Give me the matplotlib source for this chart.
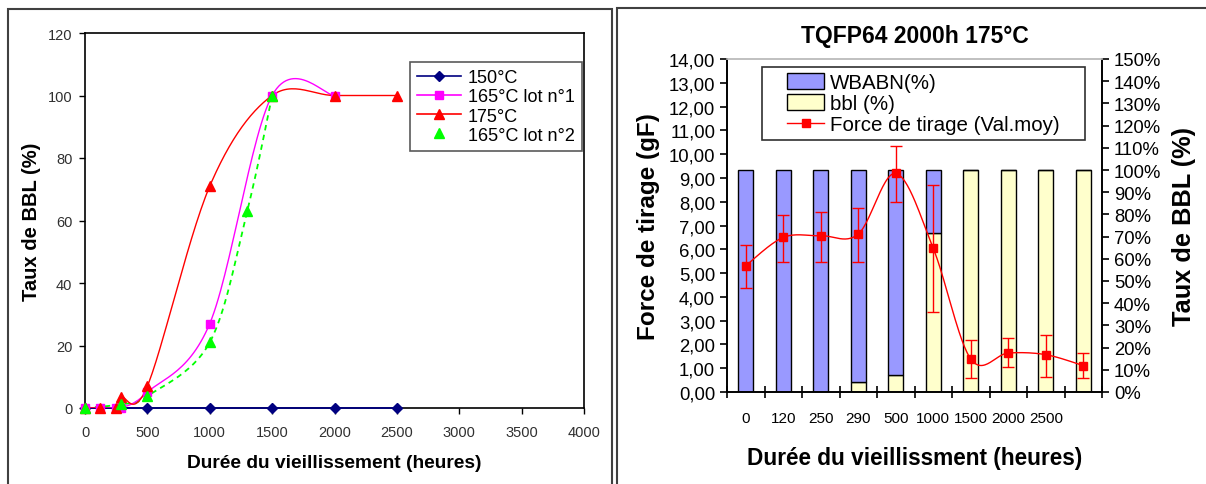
import numpy as np
import matplotlib
matplotlib.use('Agg')
import matplotlib.pyplot as plt
from matplotlib.patches import Rectangle, Patch
from matplotlib.lines import Line2D

plt.rcParams['font.family'] = ['Liberation Sans', 'DejaVu Sans']

# --- données graphique gauche : taux de BBL (%) selon la durée ---
x_150 = [0, 500, 1000, 1500, 2000, 2500]
y_150 = [0, 0, 0, 0, 0, 0]
x_165_1 = [0, 120, 250, 290, 500, 1000, 1500, 2000]
y_165_1 = [0, 0, 0, 0, 5, 27, 100, 100]
x_175 = [0, 120, 250, 290, 500, 1000, 1500, 2000, 2500]
y_175 = [0, 0, 0, 3.4, 7, 71, 100, 100, 100]
x_165_2 = [0, 290, 500, 1000, 1300, 1500]
y_165_2 = [0, 1.2, 3.8, 21, 63, 100]

# --- données graphique droit : TQFP64 2000h 175°C ---
durees = ['0', '120', '250', '290', '500', '1000', '1500', '2000', '2500', '']
bbl = [0, 0, 0, 4.4, 7.8, 71.8, 100, 100, 100, 100]
wbabn = [100 - b for b in bbl]
force = [5.31, 6.50, 6.57, 6.64, 9.19, 6.04, 1.39, 1.64, 1.57, 1.11]
err_bas = [0.94, 1.02, 1.09, 1.16, 1.22, 2.66, 0.82, 0.60, 0.95, 0.54]
err_haut = [0.88, 0.94, 1.01, 1.08, 1.17, 2.66, 0.81, 0.62, 0.83, 0.52]


def lisse(x, y, xr, yr, n=30):
    # courbe lissée façon Excel (Bezier de Catmull-Rom)
    p = np.column_stack([np.array(x, float) / xr, np.array(y, float) / yr])
    out = [p[0]]
    for i in range(len(p) - 1):
        p0 = p[i - 1] if i > 0 else p[i]
        p3 = p[i + 2] if i + 2 < len(p) else p[i + 1]
        c1 = p[i] + (p[i + 1] - p0) / 6
        c2 = p[i + 1] - (p3 - p[i]) / 6
        t = np.linspace(0, 1, n)[1:, None]
        b = ((1 - t) ** 3) * p[i] + 3 * ((1 - t) ** 2) * t * c1 + 3 * (1 - t) * t ** 2 * c2 + t ** 3 * p[i + 1]
        out.extend(b)
    out = np.array(out)
    return out[:, 0] * xr, out[:, 1] * yr


W, H = 1206, 485
fig = plt.figure(figsize=(W / 100, H / 100), dpi=100)

# cadres des deux panneaux
fig.patches.append(Rectangle((8 / W, -0.01), 604 / W, 1 - 10 / H + 0.01,
                             transform=fig.transFigure, fill=False, ec='#404040', lw=1.5))
fig.patches.append(Rectangle((617 / W, -0.01), 600 / W, 1 - 9 / H + 0.01,
                             transform=fig.transFigure, fill=False, ec='#404040', lw=1.5))

# ---------------- graphique gauche ----------------
ax = fig.add_axes([85 / W, 1 - 409 / H, 499 / W, 375 / H])
ax.plot(x_150, y_150, color='#000080', lw=1.3, marker='D', ms=5, zorder=3, clip_on=False)
sx, sy = lisse(x_165_1, y_165_1, 4000, 120)
ax.plot(sx, sy, color='#FF00FF', lw=1.0, zorder=3)
ax.plot(x_165_1, y_165_1, ls='none', color='#FF00FF', marker='s', ms=6, zorder=4, clip_on=False)
sx, sy = lisse(x_175, y_175, 4000, 120)
ax.plot(sx, sy, color='#FF0000', lw=1.0, zorder=3)
ax.plot(x_175, y_175, ls='none', color='#FF0000', marker='^', ms=7, zorder=4, clip_on=False)
sx, sy = lisse(x_165_2, y_165_2, 4000, 120)
ax.plot(sx, sy, color='#00FF00', lw=1.3, ls=(0, (3, 2.5)), zorder=2)
ax.plot(x_165_2, y_165_2, ls='none', color='#00FF00', marker='^', ms=7, zorder=5, clip_on=False)

ax.set_xlim(0, 4000)
ax.set_ylim(0, 120)
ax.set_xticks(range(0, 4001, 500))
ax.set_yticks(range(0, 121, 20))
ax.tick_params(direction='out', length=4, labelsize=10.5, colors='black', width=1)
ax.tick_params(axis='x', pad=8)
ax.tick_params(axis='y', pad=5)
for lbl in ax.get_xticklabels() + ax.get_yticklabels():
    lbl.set_color('#303030')
for s in ax.spines.values():
    s.set_linewidth(1.2)
ax.set_xlabel('Durée du vieillissement (heures)', fontsize=13.8, fontweight='bold', labelpad=11)
ax.set_ylabel('Taux de BBL (%)', fontsize=14.5, fontweight='bold', labelpad=5)

h_left = [
    Line2D([], [], color='#000080', lw=1.2, marker='D', ms=5),
    Line2D([], [], color='#FF00FF', lw=1.2, marker='s', ms=6),
    Line2D([], [], color='#FF0000', lw=1.2, marker='^', ms=7),
    Line2D([], [], ls='none', color='#00FF00', marker='^', ms=7),
]
leg = ax.legend(h_left, ['150°C', '165°C lot n°1', '175°C', '165°C lot n°2'],
                loc='upper left', bbox_to_anchor=(325 / 499, 1 - 29 / 375),
                fontsize=13, frameon=True, fancybox=False, edgecolor='#303030',
                handlelength=2.4, labelspacing=0.12, borderpad=0.4, handletextpad=0.4,
                borderaxespad=0)
leg.get_frame().set_linewidth(1.2)

# ---------------- graphique droit ----------------
axp = fig.add_axes([727 / W, 1 - 393 / H, 375 / W, 333 / H])
axf = axp.twinx()
pos = np.arange(len(durees))
axp.bar(pos, bbl, width=0.4, color='#FFFFCC', edgecolor='black', lw=1.0)
axp.bar(pos, wbabn, width=0.4, bottom=bbl, color='#9999FF', edgecolor='black', lw=1.0)
axp.set_ylim(0, 150)
axp.set_yticks(range(0, 151, 10))
axp.set_yticklabels([f'{v}%' for v in range(0, 151, 10)])
axp.yaxis.tick_right()
axp.yaxis.set_label_position('right')
axp.set_ylabel('Taux de BBL (%)', fontsize=18.3, fontweight='bold', labelpad=8)

sx, sy = lisse(pos, force, 10, 14)
axf.plot(sx, sy, color='#FF0000', lw=1.0, zorder=3)
axf.errorbar(pos, force, yerr=[err_bas, err_haut], fmt='s', color='#FF0000', ms=6,
             ecolor='#FF0000', elinewidth=1.0, capsize=4, capthick=1.0, zorder=4)
axf.set_ylim(0, 14)
axf.set_yticks(range(0, 15))
axf.set_yticklabels([f'{v},00' for v in range(0, 15)])
axf.yaxis.tick_left()
axf.yaxis.set_label_position('left')
axf.set_ylabel('Force de tirage (gF)', fontsize=17.5, fontweight='bold', labelpad=6)

axp.set_xlim(-0.5, len(durees) - 0.5)
axp.set_xticks(pos)
axp.set_xticklabels(durees)
axp.set_xticks(np.arange(-0.5, len(durees), 1.0), minor=True)
axp.tick_params(axis='x', which='major', length=0, pad=14, labelsize=11)
axp.tick_params(axis='x', which='minor', direction='inout', length=8, width=1.2)
axp.tick_params(axis='y', direction='out', length=5, width=1.2, labelsize=13.3)
axf.tick_params(axis='y', direction='out', length=5, width=1.2, labelsize=13.3)
for a in (axp, axf):
    for s in a.spines.values():
        s.set_linewidth(1.2)
    a.spines['top'].set_color('#c0c0c0')
axp.set_xlabel('Durée du vieillissment (heures)', fontsize=16.3, fontweight='bold', labelpad=15)
axp.set_title('TQFP64 2000h 175°C', fontsize=16.5, fontweight='bold', pad=12)

# légende droite : cadre dessiné à part (marge gauche plus large)
axf.add_patch(Rectangle((762 / W, 1 - 141 / H), 323 / W, 73 / H, transform=fig.transFigure,
                        facecolor='white', edgecolor='#303030', lw=1.2, zorder=6, clip_on=False))
h_right = [
    Patch(facecolor='#9999FF', edgecolor='black'),
    Patch(facecolor='#FFFFCC', edgecolor='black'),
    Line2D([], [], color='#FF0000', lw=1.0, marker='s', ms=6),
]
leg2 = axf.legend(h_right, ['WBABN(%)', 'bbl (%)', 'Force de tirage (Val.moy)'],
                  loc='upper left', bbox_to_anchor=(787 / W, 1 - 74 / H),
                  bbox_transform=fig.transFigure,
                  fontsize=14.8, frameon=False, handlelength=1.8, handleheight=0.8,
                  labelspacing=0.1, borderpad=0, handletextpad=0.3, borderaxespad=0)
leg2.set_zorder(7)

fig.savefig('out.png', dpi=100)
